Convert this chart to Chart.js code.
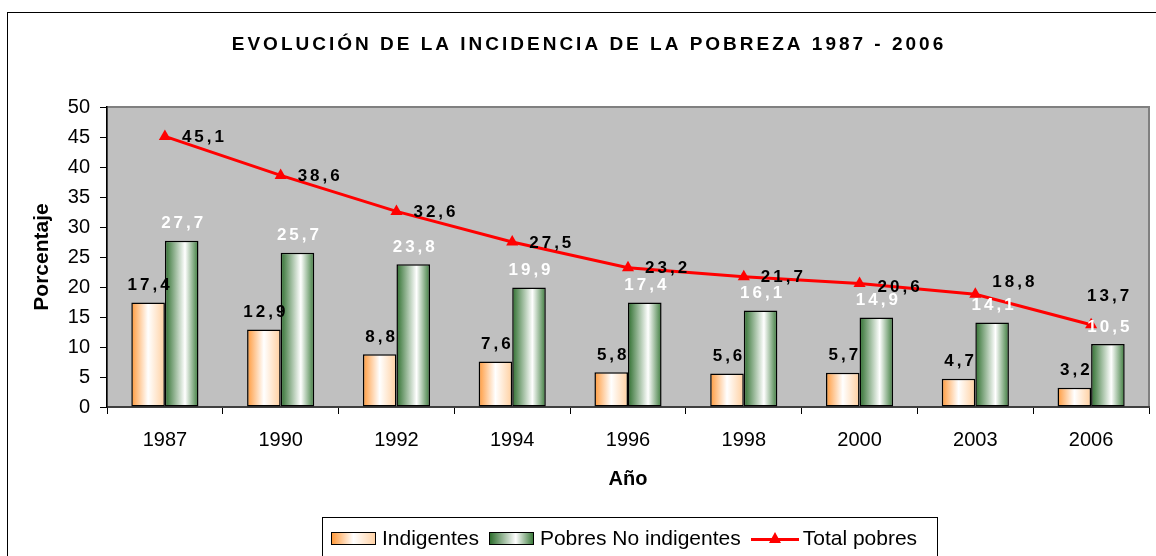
<!DOCTYPE html>
<html>
<head>
<meta charset="utf-8">
<script src="https://cdn.jsdelivr.net/npm/chart.js@4"></script>
<style>
    html, body { margin: 0; padding: 0; background: #ffffff; }
    #wrap { position: relative; width: 1156px; height: 556px; overflow: hidden; font-family: "Liberation Sans", Arial, sans-serif; }
    #frame { position: absolute; left: 7px; top: 12px; width: 1200px; height: 600px; border: 1.5px solid #000; box-sizing: border-box; }
    #chart-box { position: absolute; left: 0; top: 0; width: 1156px; height: 556px; }
    #legend { position: absolute; left: 322px; top: 517px; width: 616px; height: 60px; border: 1px solid #000; box-sizing: border-box; display: flex; align-items: flex-start; padding: 8px 0 0 8px; font-size: 21px; color: #000; }
    .lg-item { display: flex; align-items: center; margin-right: 10px; white-space: nowrap; }
    .lg-box { width: 45px; height: 13px; border: 1.5px solid #000; box-sizing: border-box; margin-right: 6px; }
    .lg-orange { background: linear-gradient(to right, #ff9a3c, #ffffff 50%, #ffd2a6); }
    .lg-green { background: linear-gradient(to right, #2f6f2f, #ffffff 60%, #3c7b3c); }
    .lg-line { position: relative; width: 48px; height: 12px; margin-right: 4px; }
    .lg-line::before { content: ""; position: absolute; left: 0; right: 0; top: 6px; height: 3px; background: #ff0000; }
    .lg-line::after { content: ""; position: absolute; left: 18px; top: 0; border-left: 6px solid transparent; border-right: 6px solid transparent; border-bottom: 11px solid #ff0000; }
</style>
</head>
<body>
<div id="wrap">
    <div id="frame"></div>
    <div id="chart-box"><canvas id="poverty-chart"></canvas></div>
    <div id="legend">
        <div class="lg-item"><span class="lg-box lg-orange"></span>Indigentes</div>
        <div class="lg-item"><span class="lg-box lg-green"></span>Pobres No indigentes</div>
        <div class="lg-item"><span class="lg-line"></span>Total pobres</div>
    </div>
</div>
<script>
// Evolución de la incidencia de la pobreza 1987 - 2006

const chartTitle = 'EVOLUCIÓN DE LA INCIDENCIA DE LA POBREZA 1987 - 2006';
const years = ['1987', '1990', '1992', '1994', '1996', '1998', '2000', '2003', '2006'];
const indigentes = [17.4, 12.9, 8.8, 7.6, 5.8, 5.6, 5.7, 4.7, 3.2];
const pobresNoIndigentes = [27.7, 25.7, 23.8, 19.9, 17.4, 16.1, 14.9, 14.1, 10.5];
const totalPobres = [45.1, 38.6, 32.6, 27.5, 23.2, 21.7, 20.6, 18.8, 13.7];
const yTicks = [0, 5, 10, 15, 20, 25, 30, 35, 40, 45, 50];

const FONT = '"Liberation Sans", Arial, sans-serif';
const CAT_PCT = 0.58;

// Horizontal gradient for each bar (left half = first dataset, right half = second)
function barGradient(stops, side) {
    return (c) => {
        const chart = c.chart;
        const xs = chart.scales.x;
        if (!xs || c.type !== 'data') return stops[0][1];
        const center = xs.getPixelForValue(c.dataIndex);
        const w = (xs.width / years.length) * CAT_PCT / 2;
        if (!isFinite(center) || !isFinite(w) || w <= 0) return stops[0][1];
        const left = side < 0 ? center - w : center;
        const g = chart.ctx.createLinearGradient(left, 0, left + w, 0);
        stops.forEach(([pos, col]) => g.addColorStop(pos, col));
        return g;
    };
}

const fmt = v => v.toFixed(1).replace('.', ',');

// Plot area background + border
const plotBackground = {
    id: 'plotBackground',
    beforeDraw(chart) {
        const { ctx, chartArea: a } = chart;
        ctx.save();
        ctx.fillStyle = '#c0c0c0';
        ctx.fillRect(a.left, a.top, a.width, a.height);
        ctx.strokeStyle = '#808080';
        ctx.lineWidth = 2;
        ctx.strokeRect(a.left, a.top, a.width, a.height);
        ctx.restore();
    }
};

// Spaced-out title (the built-in title has no letter spacing)
const spacedTitle = {
    id: 'spacedTitle',
    afterDraw(chart, args, opts) {
        const { ctx } = chart;
        ctx.save();
        ctx.font = 'bold 19px ' + FONT;
        ctx.letterSpacing = opts.spacing + 'px';
        ctx.fillStyle = '#000';
        ctx.textAlign = 'center';
        ctx.textBaseline = 'middle';
        ctx.fillText(opts.text, opts.x, opts.y);
        ctx.restore();
    }
};

// Value labels
const valueLabels = {
    id: 'valueLabels',
    afterDatasetsDraw(chart, args, opts) {
        const { ctx } = chart;
        ctx.save();
        ctx.font = 'bold 17px ' + FONT;
        ctx.letterSpacing = '3px';
        ctx.textBaseline = 'middle';
        chart.data.datasets.forEach((ds, di) => {
            const meta = chart.getDatasetMeta(di);
            meta.data.forEach((el, i) => {
                const text = fmt(ds.data[i]);
                if (ds.type === 'line') {
                    const s = opts.lineShift[i] || [0, 0];
                    ctx.fillStyle = '#000';
                    ctx.textAlign = 'left';
                    ctx.fillText(text, el.x + 17 + s[0], el.y + 1 + s[1]);
                } else {
                    ctx.fillStyle = ds.labelColor;
                    ctx.textAlign = 'center';
                    ctx.fillText(text, el.x + 2, el.y - 17);
                }
            });
        });
        ctx.restore();
    }
};

const ctx = document.getElementById('poverty-chart').getContext('2d');
new Chart(ctx, {
    data: {
        labels: years,
        datasets: [
            {
                type: 'line',
                label: 'Total pobres',
                data: totalPobres,
                borderColor: '#ff0000',
                backgroundColor: '#ff0000',
                borderWidth: 3,
                pointStyle: 'triangle',
                pointRadius: 7,
                pointBorderWidth: 0,
                tension: 0,
                order: 0
            },
            {
                type: 'bar',
                label: 'Indigentes',
                data: indigentes,
                labelColor: '#000000',
                backgroundColor: barGradient([[0, '#ff9a3c'], [0.5, '#ffffff'], [1, '#ffcf9f']], -1),
                borderColor: '#000000',
                borderWidth: 1.5,
                borderSkipped: false,
                order: 1
            },
            {
                type: 'bar',
                label: 'Pobres No indigentes',
                data: pobresNoIndigentes,
                labelColor: '#ffffff',
                backgroundColor: barGradient([[0, '#2f6f2f'], [0.6, '#ffffff'], [1, '#3c7b3c']], 1),
                borderColor: '#000000',
                borderWidth: 1.5,
                borderSkipped: false,
                order: 1
            }
        ]
    },
    options: {
        responsive: true,
        maintainAspectRatio: false,
        animation: false,
        datasets: {
            bar: { categoryPercentage: CAT_PCT, barPercentage: 1 }
        },
        layout: { padding: { left: 20, right: 4, top: 107, bottom: 64 } },
        scales: {
            x: {
                afterFit: s => { s.height = 85; },
                grid: { drawOnChartArea: false, drawTicks: true, tickLength: 7, color: '#000', offset: true },
                border: { color: '#404040', width: 2 },
                ticks: { color: '#000', font: { family: FONT, size: 20 }, padding: 14 },
                title: { display: true, text: 'Año', color: '#000', font: { family: FONT, size: 20, weight: 'bold' }, padding: { top: 0, bottom: 1 } }
            },
            y: {
                min: 0,
                max: 50,
                afterFit: s => { s.width = 87; },
                afterBuildTicks: s => { s.ticks = yTicks.map(v => ({ value: v })); },
                grid: { drawOnChartArea: false, drawTicks: true, tickLength: 7, color: '#000' },
                border: { color: '#000', width: 1.5 },
                ticks: { color: '#000', font: { family: FONT, size: 20 }, padding: 10 },
                title: { display: true, text: 'Porcentaje', color: '#000', font: { family: FONT, size: 21, weight: 'bold' }, padding: { top: 10, bottom: 0 } }
            }
        },
        plugins: {
            legend: { display: false },
            tooltip: { enabled: false },
            title: { display: false },
            spacedTitle: { text: chartTitle, x: 589, y: 45, spacing: 3 },
            valueLabels: {
                lineShift: [[0, 0], [0, 0], [0, 0], [0, 0], [0, 0], [0, 0], [1, 3], [0, -13], [-21, -29]]
            }
        }
    },
    plugins: [plotBackground, valueLabels, spacedTitle]
});
</script>
</body>
</html>
